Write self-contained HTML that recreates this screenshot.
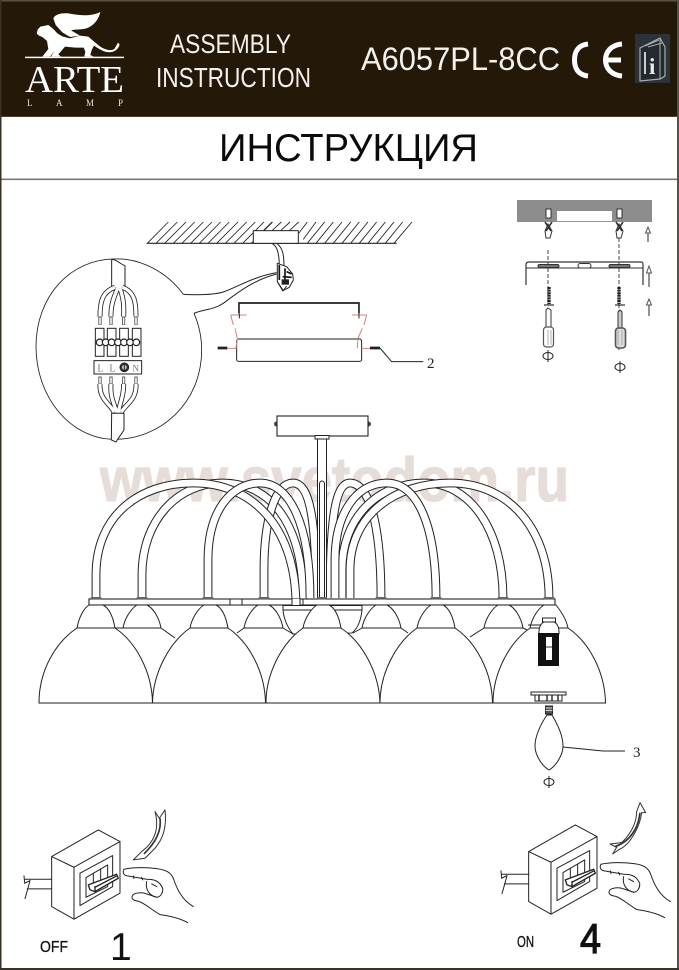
<!DOCTYPE html>
<html><head><meta charset="utf-8"><style>
html,body{margin:0;padding:0;background:#fff}
svg{display:block}
text{font-family:"Liberation Sans",sans-serif}
.s{font-family:"Liberation Serif",serif}
</style></head><body>
<svg xmlns="http://www.w3.org/2000/svg" width="679" height="970" viewBox="0 0 679 970">
<defs>
<g id="sw" fill="none" stroke="#222" stroke-width="3" stroke-linejoin="round" stroke-linecap="round">
<path d="M222,232L360,155V310L222,388ZM155,200L295,120L360,155M155,200L222,232M155,200V350L222,388"/>
<path d="M240,250L338,197V290L240,347Z"/>
<path d="M258,263L323,225V290L258,322Z"/>
<path d="M280,250V285M302,238V272"/>
<path d="M265,285L350,253L355,265L285,305L270,300Z" fill="#fff" stroke-width="4"/>
<path d="M285,290V305M285,292L350,258" stroke-width="4"/>
<path d="M75,268H155M82,297H155M72,258L74,280L90,272L83,298L75,326"/>
<path d="M372,238C400,232 440,232 470,236C500,240 512,248 520,265C530,295 545,330 580,350"/>
<path d="M372,238C366,248 372,256 382,258L440,268C462,268 478,272 488,295C490,310 480,322 470,322C450,318 435,300 440,275"/>
<path d="M400,258L402,266M425,262L428,270M455,282L470,290"/>
<path d="M470,322L440,312C425,306 405,308 398,316C392,326 400,332 415,334C435,340 455,360 480,374C510,378 540,385 563,398"/>
</g>
<g id="screwsym" fill="none" stroke="#222" stroke-width="1"><ellipse cx="0" cy="0" rx="5" ry="3.5"/><path d="M0,-6V6"/></g>
</defs>

<rect width="679" height="970" fill="#fff"/>
<!-- watermark -->
<text x="100" y="501" font-size="62" font-weight="bold" fill="#e6dcd8" stroke="#e6dcd8" stroke-width="1.2" textLength="469" lengthAdjust="spacingAndGlyphs">www.svetodom.ru</text>

<!-- header -->
<rect x="0" y="0" width="679" height="117" fill="#241808"/>
<rect x="0" y="0" width="679" height="1.5" fill="#5a5240"/>
<rect x="0" y="116" width="679" height="1" fill="#4a4030"/>
<rect x="0" y="178.5" width="679" height="1.6" fill="#77756c"/>
<rect x="0" y="0" width="1.5" height="970" fill="#3a3226"/>
<rect x="677" y="0" width="2" height="970" fill="#55524a"/>
<rect x="0" y="968" width="679" height="2" fill="#3a3226"/>

<!-- logo -->
<g transform="translate(25,5) scale(.3333)" fill="#fff">
<path d="M35,86L38,74L46,65L70,60L85,72L97,85L112,94L135,100L165,92L190,95L205,108L222,122C235,132 255,140 268,132L279,113L284,118C280,136 262,146 240,140C228,136 216,128 207,122L200,135L196,150L206,155H178L181,140L176,128L150,128L120,125L100,148L108,155H78L88,138L75,155H52L70,132L66,108L52,96L42,92Z"/>
<path d="M85,40C92,26 115,22 140,27C170,32 200,34 226,21C222,40 210,58 190,68C175,75 155,72 138,76L165,92L135,96L112,82L92,60Z"/>
<rect x="0" y="155" width="297" height="4.5"/>
</g>
<text class="s" x="25" y="92" style="font-family:'Liberation Serif',serif" font-size="38" fill="#fff" textLength="99" lengthAdjust="spacingAndGlyphs">ARTE</text>
<g font-size="9" fill="#e8e4dc">
<text x="27" y="106" style="font-family:'Liberation Serif',serif">L</text><text x="56" y="106" style="font-family:'Liberation Serif',serif">A</text><text x="86" y="106" style="font-family:'Liberation Serif',serif">M</text><text x="118" y="106" style="font-family:'Liberation Serif',serif">P</text>
</g>
<text x="170" y="53" font-size="27" fill="#f4f2ec" textLength="121" lengthAdjust="spacingAndGlyphs">ASSEMBLY</text>
<text x="156" y="87" font-size="28" fill="#f4f2ec" textLength="155" lengthAdjust="spacingAndGlyphs">INSTRUCTION</text>
<text x="361" y="70" font-size="32" fill="#f4f2ec" textLength="199" lengthAdjust="spacingAndGlyphs">A6057PL-8CC</text>
<!-- CE -->
<g fill="none" stroke="#fff" stroke-width="5">
<path d="M588,44C578,45 574.500,52 574.500,60C574.500,68 578,75 588,76"/>
<path d="M622,44C611,45 605.500,52 605.500,60C605.500,68 611,75 622,76M605,60H621"/>
</g>
<!-- book -->
<rect x="635" y="34" width="35" height="49" fill="#2b3238"/>
<path d="M640,48L660,38L665,47V76L660,79L640,81Z" fill="#222a30" stroke="#a8aeb0" stroke-width="1.2"/>
<path d="M645,46L659,40M648,47L662,43M660,38V79" stroke="#a8aeb0" stroke-width="1"/>
<path d="M645,52V74" stroke="#c8ccce" stroke-width="2"/>
<text x="649" y="74" style="font-family:'Liberation Serif',serif" font-size="23" font-weight="bold" fill="#e8eaea">i</text>

<!-- title -->
<text x="219" y="161" font-size="39" fill="#0a0a0a" textLength="259" lengthAdjust="spacingAndGlyphs">ИНСТРУКЦИЯ</text>

<!-- ceiling / wiring (zoom coords) -->
<g transform="translate(20,200) scale(.3333)" fill="none" stroke="#222" stroke-width="3">
<path d="M380,130H1130" stroke-width="3.5"/>
<path stroke-width="2.6" d="M382,130L445,66M408,130L472,66M434,130L498,66M460,130L524,66M486,130L550,66M512,130L576,66M538,130L602,66M564,130L628,66M590,130L654,66M616,130L680,66M642,130L706,66M668,130L732,66M694,130L758,66M730,92L756,66M756,92L784,66M782,92L810,66M808,92L836,66M836,100L862,66M850,118L888,66M862,130L914,66M888,130L940,66M914,130L966,66M940,130L992,66M966,130L1018,66M992,130L1044,66M1018,130L1070,66M1044,130L1096,66M1070,130L1122,66M1096,130L1148,66M1122,130L1176,66"/>
<rect x="700" y="92" width="135" height="38" fill="#fff"/>
<path d="M758,132C775,140 778,170 778,200M772,132C790,145 792,170 792,200"/>
<path d="M772,190L800,200L818,222L820,240L808,262L788,272L772,245Z" fill="#fff"/>
<path d="M778,195V240M795,205V240M800,215L815,222M788,230L815,232" stroke-width="5" stroke="#111"/>
<rect x="785" y="238" width="22" height="16" fill="#222" stroke="none"/>
<path d="M772,245L790,272L800,258" />
<path d="M490,283C530,285 580,285 610,276C650,262 700,230 770,218"/>
<path d="M522,340C550,328 580,330 610,310C650,280 700,240 770,222"/>
<path d="M490,283C440,215 360,175 290,177C150,175 48,290 48,440C48,590 150,718 285,718C420,718 545,610 545,450C545,410 535,370 522,340" stroke-width="2.6"/>
<!-- upper cable -->
<path d="M275,178V262M315,197V262M275,178C290,178 296,190 315,197" fill="#fff"/>
<!-- wires -->
<g>
<path stroke="#222" stroke-width="15" d="M285,262C245,275 240,310 240,350M293,265C278,300 272,320 273,350M300,265C312,300 312,320 311,350M307,262C345,275 348,310 348,350"/>
<path stroke="#fff" stroke-width="10" d="M285,262C245,275 240,310 240,350M293,265C278,300 272,320 273,350M300,265C312,300 312,320 311,350M307,262C345,275 348,310 348,350"/>
<path stroke="#222" stroke-width="9" d="M240,350V375M273,350V375M311,350V375M348,350V375"/>
<path stroke="#fff" stroke-width="5" d="M240,352V374M273,352V374M311,352V374M348,352V374"/>
</g>
<rect x="226" y="385" width="26" height="84"/><rect x="262" y="385" width="26" height="84"/><rect x="299" y="385" width="26" height="84"/><rect x="337" y="385" width="26" height="84"/>
<g fill="#fff" stroke-width="3.5">
<circle cx="239" cy="427" r="10"/><circle cx="257" cy="427" r="10"/><circle cx="275" cy="427" r="10"/><circle cx="294" cy="427" r="10"/><circle cx="312" cy="427" r="10"/><circle cx="330" cy="427" r="10"/><circle cx="349" cy="427" r="10"/>
</g>
<rect x="222" y="482" width="143" height="40" fill="#fff"/>
<circle cx="313" cy="502" r="13" fill="#333"/><circle cx="313" cy="502" r="7" fill="#ccc" stroke="none"/><path d="M313,490V514"/>
<text x="232" y="514" stroke="none" fill="#777" font-size="30" style="font-family:'Liberation Serif',serif">L</text>
<text x="268" y="514" stroke="none" fill="#777" font-size="30" style="font-family:'Liberation Serif',serif">L</text>
<text x="337" y="514" stroke="none" fill="#777" font-size="28" style="font-family:'Liberation Serif',serif">N</text>
<path stroke="#222" stroke-width="9" d="M240,530V552M273,530V552M311,530V552M348,530V552"/>
<path stroke="#fff" stroke-width="5" d="M240,532V551M273,532V551M311,532V551M348,532V551"/>
<path stroke="#222" stroke-width="15" d="M240,552C238,600 270,610 282,636M273,552C270,590 282,610 290,636M311,552C312,590 298,610 296,636M348,552C350,600 320,610 304,636"/>
<path stroke="#fff" stroke-width="10" d="M240,552C238,600 270,610 282,636M273,552C270,590 282,610 290,636M311,552C312,590 298,610 296,636M348,552C350,600 320,610 304,636"/>
<path d="M275,640H312V690L295,715L288,726L274,720Z" fill="#fff"/>
<!-- bracket -->
<path d="M657,340V309H1017V340" stroke-width="5"/>
<rect x="650" y="417" width="375" height="67" rx="6" fill="#fff"/>
<g stroke="#d08080" stroke-width="3">
<path d="M632,345H680M632,345L640,375M645,385L652,415M652,417L648,445"/>
<path d="M996,345H1040M1040,345L1032,375M1027,385L1014,415M1014,417L1012,445"/>
<path d="M622,445H650M1025,445H1050"/>
</g>
<path d="M658,340V355M1017,340V355" stroke="#222"/>
<path d="M593,444H622M1050,444H1080" stroke-width="8"/>
<path d="M1080,444L1115,485H1210"/>
</g>
<text x="427" y="368" font-size="15" fill="#222" style="font-family:'Liberation Serif',serif">2</text>

<!-- fixing plate top-right -->
<rect x="517" y="200" width="135" height="22" fill="#8d8d8d"/>
<rect x="557" y="211" width="55" height="11" fill="#fff"/>
<g fill="none" stroke="#333" stroke-width="1">
<path d="M557,221.500H612" stroke="#999"/>
<rect x="546" y="209" width="5" height="9" fill="#fff"/><rect x="617" y="209" width="5" height="9" fill="#fff"/>
<path d="M545,231L548,224L552,231L550,238H546ZM616,231L619,224L623,231L621,238H617Z" fill="#fff"/>
<path d="M545,222L551,231M552,222L546,231M616,222L622,231M623,222L617,231" stroke-width="1.6"/>
<path d="M548,250V305M619,238V352" stroke-dasharray="4,2" stroke-width=".9"/>
<path d="M526,285V265C526,263 527,262 529,262H641C643,262 643,263 643,265V285" stroke-width="1.2"/>
<path d="M526,268H643" stroke-width="1"/>
<rect x="538" y="264.500" width="21" height="3" fill="#777" rx="1.5"/>
<rect x="578" y="263.500" width="13" height="4.500" fill="#fff" rx="2.2"/>
<rect x="609" y="264.500" width="21" height="3" fill="#777" rx="1.5"/>
<path d="M549,287V304M619,287V304" stroke="#222" stroke-width="3.4" stroke-dasharray="2,.6"/>
<path d="M544,305H554M615,305H625" stroke-width="1.2"/>
<path d="M546,327V310L548,308L551,310V327" fill="#fff"/>
<path d="M618,328V312L620,310L622,312V328" fill="#ccc"/>
<rect x="543.500" y="327" width="10" height="20" rx="3" fill="#fff" stroke="#555" stroke-width="1.2"/>
<rect x="615.500" y="328" width="10" height="20" rx="3" fill="#ddd" stroke="#555" stroke-width="1.6"/>
<path d="M548,330V345M551,330V345M618,330V345M622,330V345" stroke="#999" stroke-width=".8"/>
<path d="M648,242V231M649,287V272M649,316V303" stroke="#777" stroke-width="1.6"/>
</g>
<path d="M648,227L645.500,233H650.500ZM649,266L646.500,273H651.500ZM649,299L646.500,305H651.500Z" fill="#fff" stroke="#555"/>
<use href="#screwsym" x="548" y="356"/>
<use href="#screwsym" x="620" y="367"/>

<!-- chandelier -->
<g fill="none" stroke="#222" stroke-width="1">
<circle cx="276.500" cy="424" r="2.500" fill="#444" stroke="none"/><circle cx="368.500" cy="424" r="2.500" fill="#444" stroke="none"/>
<rect x="277" y="416" width="91" height="20" fill="#fff" stroke-width="1.1"/>
<rect x="315" y="435.500" width="14" height="3.500" fill="#fff"/>
</g>
<g fill="none">
<path stroke="#222" stroke-width="8.800" d="M142,598V575C142,520 178,483 222,483C275,483 303,530 303,600"/>
<path stroke="#fff" stroke-width="6.800" d="M142,598V575C142,520 178,483 222,483C275,483 303,530 303,600"/>
<path stroke="#222" stroke-width="8.800" d="M264,598V570C264,520 275,483 293,483C310,483 316,520 316,598"/>
<path stroke="#fff" stroke-width="6.800" d="M264,598V570C264,520 275,483 293,483C310,483 316,520 316,598"/>
<path stroke="#222" stroke-width="8.800" d="M96,598V575C96,515 140,483 193,483C255,483 296,530 296,606"/>
<path stroke="#fff" stroke-width="6.800" d="M96,598V575C96,515 140,483 193,483C255,483 296,530 296,606"/>
<path stroke="#222" stroke-width="8.800" d="M208,598V560C208,510 232,483 260,483C290,483 310,525 310,598"/>
<path stroke="#fff" stroke-width="6.800" d="M208,598V560C208,510 232,483 260,483C290,483 310,525 310,598"/>
<path stroke="#222" stroke-width="8.800" d="M330,598C330,520 335,483 350,483C368,483 381,520 381,598"/>
<path stroke="#fff" stroke-width="6.800" d="M330,598C330,520 335,483 350,483C368,483 381,520 381,598"/>
<path stroke="#222" stroke-width="8.800" d="M342,598V570C342,520 375,483 425,483C470,483 503,530 503,598"/>
<path stroke="#fff" stroke-width="6.800" d="M342,598V570C342,520 375,483 425,483C470,483 503,530 503,598"/>
<path stroke="#222" stroke-width="8.800" d="M350,598V570C350,515 395,483 450,483C510,483 549,530 549,598"/>
<path stroke="#fff" stroke-width="6.800" d="M350,598V570C350,515 395,483 450,483C510,483 549,530 549,598"/>
<path stroke="#222" stroke-width="8.800" d="M335,598V560C335,515 355,483 387,483C415,483 436,520 436,598"/>
<path stroke="#fff" stroke-width="6.800" d="M335,598V560C335,515 355,483 387,483C415,483 436,520 436,598"/>
</g>
<g fill="none" stroke="#222" stroke-width="1">
<!-- centre rod -->
<path d="M317.500,439H326.500V598H317.500Z" fill="#fff"/>
<path d="M319.500,598V484C319.500,480 324.500,480 324.500,484V598"/>
<!-- bar -->
<rect x="89" y="599" width="466" height="6" fill="#fff" stroke-width="1.100"/>
<rect x="230" y="599" width="12" height="6" fill="#fff"/>
<path d="M292,599V605.500H300V599" fill="#fff"/>
<path d="M303,599V605"/>
<!-- centre bowl -->
<path d="M283,605.500V610C284,620 288,628 293,634L352,633C358,628 361,620 362,610V605.500Z" fill="#fff"/>
<path d="M283,610H362"/>
<g fill="#fff">
<path d="M161,628L175,638M237,633L244,628M283,628L293,634M353,633L362,628M401,628L408,633M470,637L484,628M523,628L527,630"/>
<path d="M123,628C125,617 132,608 137,605H147C153,608 159,617 161,628Z"/>
<path d="M244,628C246,617 253,608 258,605H269C275,608 281,617 283,628Z"/>
<path d="M362,628C364,617 371,608 376,605H387C393,608 399,617 401,628Z"/>
<path d="M484,628C486,617 493,608 498,605H509C515,608 521,617 523,628Z"/>
<path d="M77,628C79,617 84,608 89,605H103C109,608 113,617 115,628Z"/>
<path d="M190,628C192,617 199,608 204,605H216C222,608 226,617 228,628Z"/>
<path d="M303,628C305,617 312,608 317,605H329C335,608 339,617 341,628Z"/>
<path d="M417,628C419,617 426,608 431,605H443C449,608 453,617 455,628Z"/>
<path d="M530,628C532,617 539,608 544,605H556C560,610 566,618 568,628Z"/>
<path d="M115,628H161"/>
<!-- big shades -->
<path d="M39,703C39,670 56,642 77,628H115C136,642 152,672 152.500,703Z"/>
<path d="M152.500,703C153,672 170,642 190,628H228C249,642 265,672 265.500,703Z"/>
<path d="M266,703C266,672 283,642 303,628H341C362,642 379,672 380,703Z"/>
<path d="M380,703C380,672 397,642 417,628H455C476,642 492,672 492.500,703Z"/>
<path d="M493,703C493,672 510,642 530,628H568C589,642 605,672 605.500,703Z"/>
</g>
</g>
<!-- foot caps -->
<g fill="#666">
<rect x="90.500" y="597" width="11" height="2.400" rx="1"/><rect x="136.500" y="597" width="11" height="2.400" rx="1"/><rect x="202.500" y="597" width="11" height="2.400" rx="1"/><rect x="258.500" y="597" width="11" height="2.400" rx="1"/><rect x="317" y="597" width="10" height="2.400" rx="1"/><rect x="375.500" y="597" width="11" height="2.400" rx="1"/><rect x="430.500" y="597" width="11" height="2.400" rx="1"/><rect x="497.500" y="597" width="11" height="2.400" rx="1"/><rect x="543.500" y="597" width="11" height="2.400" rx="1"/>
</g>
<!-- socket & bulb -->
<g fill="none" stroke="#222" stroke-width="1">
<path d="M528,625H543"/>
<rect x="542.500" y="618" width="13" height="4" fill="#fff"/>
<path d="M539,632C539,626 542,622 545,622H553C556,622 559,626 559,632V634H539Z" fill="#fff"/>
<rect x="538" y="633" width="21" height="33" fill="#111" stroke="none"/>
<rect x="546" y="637" width="6" height="23" fill="#fff" stroke="none"/>
<path d="M546,647H552" stroke="#333"/>
<rect x="531" y="692" width="35" height="3" fill="#fff"/>
<rect x="535" y="695" width="27" height="6" fill="#fff"/>
<path d="M539,695V701M547,695V701M552,695V701M558,695V701" stroke-width="1.400"/>
<path d="M545.500,706H552.500V714H545.500Z" fill="#555"/>
<path d="M545.500,708H552.500M545.500,710.500H552.500" stroke="#fff" stroke-width=".7"/>
<path d="M547,715C540,725 535,737 535,746C535,755 542,766 549,770C556,766 563,755 563,746C563,737 558,725 552,715Z" fill="#fff"/>
<path d="M563,747L603,751H625"/>
</g>
<text x="633" y="757" font-size="15" fill="#222" style="font-family:'Liberation Serif',serif">3</text>
<use href="#screwsym" x="549" y="782"/>

<!-- switches -->
<g transform="scale(.3333) translate(0,2370)"><use href="#sw"/>
<g fill="#fff" stroke="#333" stroke-width="3" stroke-linejoin="round">
<path d="M465,65L478,85L495,60C500,100 495,140 465,175L435,205L400,210L425,185C460,160 480,120 465,65Z"/>
<path d="M480,85C485,120 470,155 432,192" fill="none" stroke-width="5"/>
</g></g>
<g transform="translate(477,-5) scale(.3333) translate(0,2370)"><use href="#sw"/></g>
<g transform="translate(480,790) scale(.3333)" fill="#fff" stroke="#333" stroke-width="3" stroke-linejoin="round">
<path d="M480,38L497,68L485,68C480,110 450,165 418,178L398,192L410,172L390,162L425,158C450,135 470,100 470,65Z"/>
<path d="M480,68C475,115 450,155 405,170" fill="none" stroke-width="5"/>
</g>
<text x="40" y="952" font-size="16" fill="#111" stroke="#111" stroke-width=".3" textLength="28" lengthAdjust="spacingAndGlyphs">OFF</text>
<text x="517" y="947" font-size="16" fill="#111" stroke="#111" stroke-width=".3" textLength="17" lengthAdjust="spacingAndGlyphs">ON</text>
<text x="110" y="960" font-size="39" fill="#111">1</text>
<text x="580" y="953" font-size="42" fill="#111" stroke="#111" stroke-width="1.200" textLength="21" lengthAdjust="spacingAndGlyphs">4</text>
</svg>
</body></html>
